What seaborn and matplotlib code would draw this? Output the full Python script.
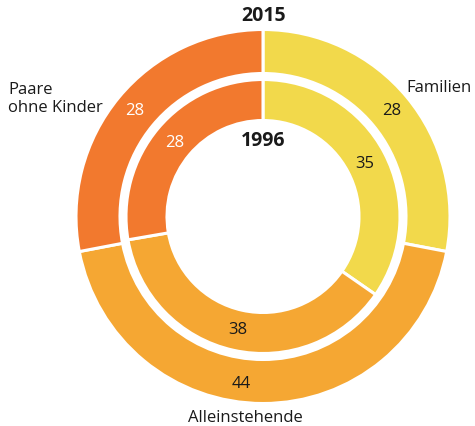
import matplotlib
matplotlib.use("Agg")
import matplotlib.pyplot as plt
import seaborn as sns

# Daten: Haushaltstypen 1996 (innen) und 2015 (außen), Anteile in %
kategorien = ["Familien", "Alleinstehende", "Paare ohne Kinder"]
werte_2015 = [28, 44, 28]
werte_1996 = [35, 38, 28]
farben = ["#F2D94B", "#F5A733", "#F2792E"]
textfarben = ["#1a1a1a", "#1a1a1a", "white"]

sns.set_theme(style="white")
plt.rcParams["font.family"] = ["Open Sans", "DejaVu Sans"]

fig = plt.figure(figsize=(4.75, 4.27), dpi=100)
ax = fig.add_axes([0, 0, 1, 1])

zentrum = (263, 209.5)

def ringe(werte, radius, breite, abstand):
    wedges, texte, zahlen = ax.pie(
        werte, colors=farben, startangle=90, counterclock=False,
        center=zentrum, radius=radius, frame=True,
        autopct=lambda p: "", pctdistance=abstand,
        wedgeprops=dict(width=breite, edgecolor="white", linewidth=2.2),
    )
    for z, w, c in zip(zahlen, werte, textfarben):
        z.set_text(str(w))
        z.set_color(c)
        z.set_fontsize(12)
    return zahlen

zahlen_2015 = ringe(werte_2015, 187, 44, 0.89)
zahlen_1996 = ringe(werte_1996, 137, 41, 0.84)
# die 44 sitzt im Original etwas links von der Mitte
x44, y44 = zahlen_2015[1].get_position()
zahlen_2015[1].set_position((x44 - 22, y44))

ax.set_xlim(0, 475)
ax.set_ylim(0, 427)
ax.set_aspect("equal")
ax.axis("off")

ax.text(264, 427 - 16, "2015", ha="center", va="center", fontsize=14, fontweight="bold", color="#1a1a1a")
ax.text(263, 427 - 141, "1996", ha="center", va="center", fontsize=14, fontweight="bold", color="#1a1a1a")
ax.text(406, 427 - 88, kategorien[0], ha="left", va="center", fontsize=12, color="#1a1a1a")
ax.text(245, 427 - 418, kategorien[1], ha="center", va="center", fontsize=12, color="#1a1a1a")
ax.text(8, 427 - 99, "Paare\nohne Kinder", ha="left", va="center", fontsize=12,
        color="#1a1a1a", linespacing=1.2)

fig.savefig("out.png", dpi=100, facecolor="white")
